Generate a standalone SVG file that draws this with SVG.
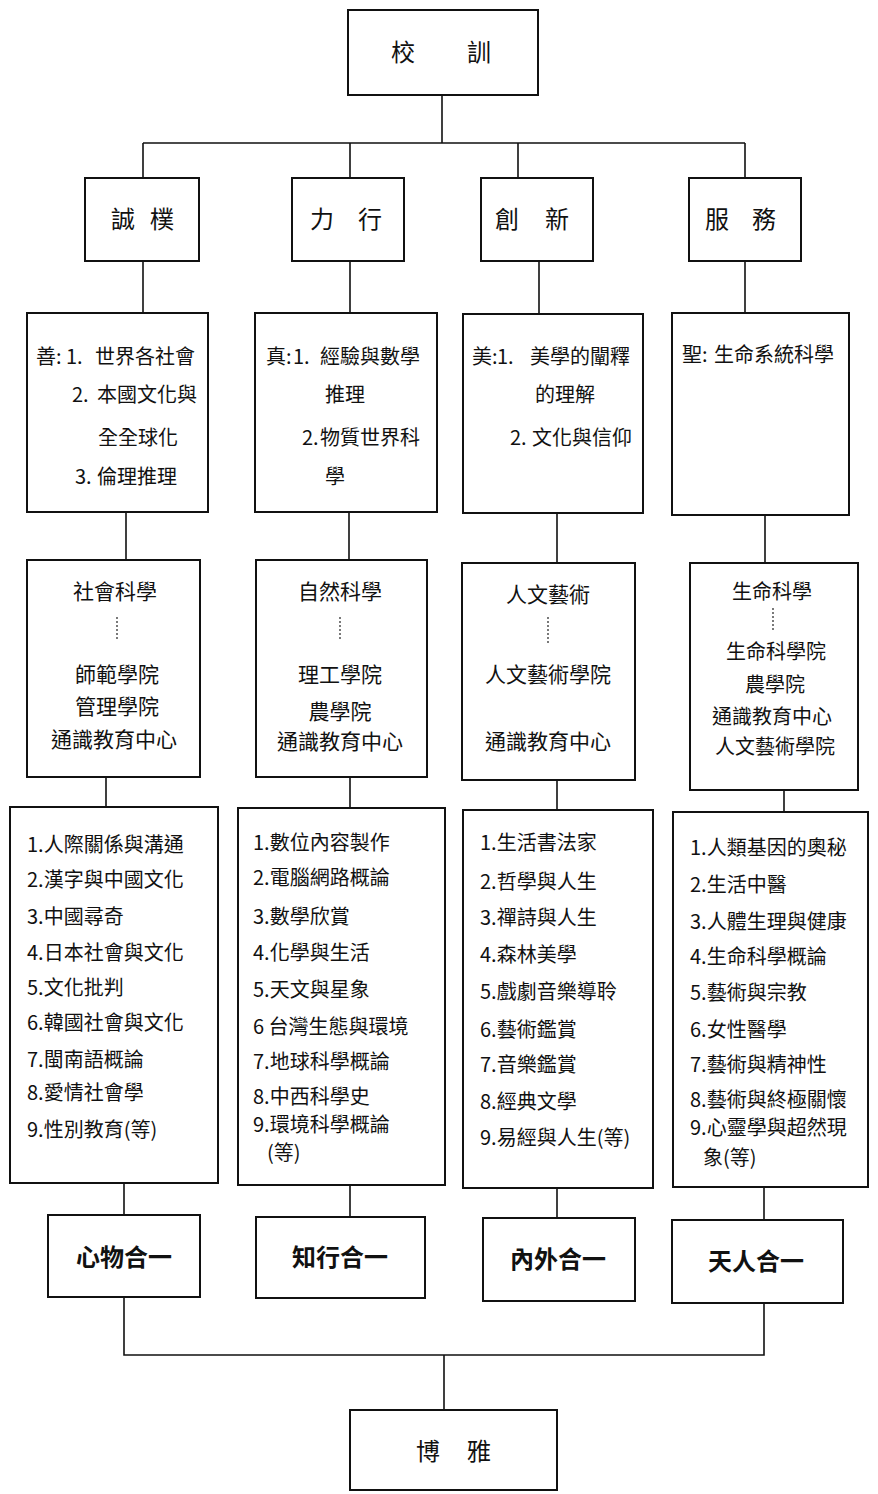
<svg xmlns="http://www.w3.org/2000/svg" width="878" height="1494" viewBox="0 0 878 1494">
<style>
.box{fill:#fff;stroke:#111;stroke-width:2}
.ln{stroke:#111;stroke-width:1.6;fill:none}
.dot{stroke:#222;stroke-width:1.2;stroke-dasharray:2 2;fill:none}
.t{font-family:"Noto Sans CJK TC","Noto Sans CJK SC",sans-serif;fill:#111;font-size:20px}
.m{text-anchor:middle}
.h{font-size:24px}
.d{font-size:21px}
.b{font-size:24px;font-weight:bold}
</style>
<rect width="878" height="1494" fill="#fff"/>
<g id="connectors">
<path class="ln" d="M442 95V143M143 143H745M143 143V178M350 143V178M518 143V178M745 143V178"/>
<path class="ln" d="M143 261V313M350 261V313M539 261V314M745 261V313"/>
<path class="ln" d="M126 512V560M349 512V560M557 513V563M765 515V563"/>
<path class="ln" d="M106 777V807M350 777V808M557 780V810M784 790V812"/>
<path class="ln" d="M124 1183V1215M350 1185V1217M557 1188V1218M764 1187V1220"/>
<path class="ln" d="M124 1297V1355H764V1303M444 1355V1410"/>
</g>
<g id="motto">
<rect class="box" x="348" y="10" width="190" height="85"/>
<text class="t h m" x="403 479" y="61">校訓</text>
</g>
<g id="chengpu">
<rect class="box" x="85" y="178" width="114" height="83"/>
<text class="t h m" x="123 162" y="228">誠樸</text>
</g>
<g id="lixing">
<rect class="box" x="292" y="178" width="112" height="83"/>
<text class="t h m" x="322 370" y="228">力行</text>
</g>
<g id="chuangxin">
<rect class="box" x="481" y="178" width="112" height="83"/>
<text class="t h m" x="507 557" y="228">創新</text>
</g>
<g id="fuwu">
<rect class="box" x="689" y="178" width="112" height="83"/>
<text class="t h m" x="717 764" y="228">服務</text>
</g>
<g id="goal-shan">
<rect class="box" x="27" y="313" width="181" height="199"/>
<text class="t" y="364"><tspan x="36">善:</tspan><tspan x="66">1.</tspan><tspan x="95">世界各社會</tspan></text>
<text class="t" y="402"><tspan x="72">2.</tspan><tspan x="97">本國文化與</tspan></text>
<text class="t" x="98" y="445">全全球化</text>
<text class="t" y="484"><tspan x="75">3.</tspan><tspan x="97">倫理推理</tspan></text>
</g>
<g id="goal-zhen">
<rect class="box" x="255" y="313" width="182" height="199"/>
<text class="t" y="364"><tspan x="266">真:</tspan><tspan x="293">1.</tspan><tspan x="320">經驗與數學</tspan></text>
<text class="t" x="325" y="402">推理</text>
<text class="t" y="445"><tspan x="302">2.</tspan><tspan x="320">物質世界科</tspan></text>
<text class="t" x="325" y="484">學</text>
</g>
<g id="goal-mei">
<rect class="box" x="463" y="314" width="180" height="199"/>
<text class="t" y="364"><tspan x="472">美:</tspan><tspan x="497">1.</tspan><tspan x="530">美學的闡釋</tspan></text>
<text class="t" x="535" y="402">的理解</text>
<text class="t" y="445"><tspan x="510">2.</tspan><tspan x="532">文化與信仰</tspan></text>
</g>
<g id="goal-sheng">
<rect class="box" x="672" y="313" width="177" height="202"/>
<text class="t" y="362"><tspan x="682">聖:</tspan><tspan x="714">生命系統科學</tspan></text>
</g>
<g id="field-social">
<rect class="box" x="27" y="560" width="173" height="217"/>
<text class="t d m" x="115" y="599">社會科學</text>
<path class="dot" d="M117 617V640"/>
<text class="t d m" x="117" y="682">師範學院</text>
<text class="t d m" x="117" y="714">管理學院</text>
<text class="t d m" x="114" y="747">通識教育中心</text>
</g>
<g id="field-natural">
<rect class="box" x="256" y="560" width="171" height="217"/>
<text class="t d m" x="340" y="599">自然科學</text>
<path class="dot" d="M340 617V640"/>
<text class="t d m" x="340" y="682">理工學院</text>
<text class="t d m" x="340" y="719">農學院</text>
<text class="t d m" x="340" y="749">通識教育中心</text>
</g>
<g id="field-arts">
<rect class="box" x="462" y="563" width="173" height="217"/>
<text class="t d m" x="548" y="602">人文藝術</text>
<path class="dot" d="M548 617V645"/>
<text class="t d m" x="548" y="682">人文藝術學院</text>
<text class="t d m" x="548" y="749">通識教育中心</text>
</g>
<g id="field-life">
<rect class="box" x="690" y="563" width="168" height="227"/>
<text class="t m" x="772" y="599">生命科學</text>
<path class="dot" d="M773 608V632"/>
<text class="t m" x="776" y="659">生命科學院</text>
<text class="t m" x="775" y="692">農學院</text>
<text class="t m" x="772" y="724">通識教育中心</text>
<text class="t m" x="775" y="754">人文藝術學院</text>
</g>
<g id="courses-social">
<rect class="box" x="10" y="807" width="208" height="376"/>
<text class="t" x="27" y="852">1.人際關係與溝通</text>
<text class="t" x="27" y="887">2.漢字與中國文化</text>
<text class="t" x="27" y="924">3.中國尋奇</text>
<text class="t" x="27" y="960">4.日本社會與文化</text>
<text class="t" x="27" y="995">5.文化批判</text>
<text class="t" x="27" y="1030">6.韓國社會與文化</text>
<text class="t" x="27" y="1067">7.閩南語概論</text>
<text class="t" x="27" y="1100">8.愛情社會學</text>
<text class="t" x="27" y="1137">9.性別教育(等)</text>
</g>
<g id="courses-natural">
<rect class="box" x="238" y="808" width="207" height="377"/>
<text class="t" x="253" y="850">1.數位內容製作</text>
<text class="t" x="253" y="885">2.電腦網路概論</text>
<text class="t" x="253" y="924">3.數學欣賞</text>
<text class="t" x="253" y="960">4.化學與生活</text>
<text class="t" x="253" y="997">5.天文與星象</text>
<text class="t" x="253" y="1034">6 台灣生態與環境</text>
<text class="t" x="253" y="1069">7.地球科學概論</text>
<text class="t" x="253" y="1104">8.中西科學史</text>
<text class="t" x="253" y="1132">9.環境科學概論</text>
<text class="t" x="267" y="1160">(等)</text>
</g>
<g id="courses-arts">
<rect class="box" x="463" y="810" width="190" height="378"/>
<text class="t" x="480" y="850">1.生活書法家</text>
<text class="t" x="480" y="889">2.哲學與人生</text>
<text class="t" x="480" y="925">3.禪詩與人生</text>
<text class="t" x="480" y="962">4.森林美學</text>
<text class="t" x="480" y="999">5.戲劇音樂導聆</text>
<text class="t" x="480" y="1037">6.藝術鑑賞</text>
<text class="t" x="480" y="1072">7.音樂鑑賞</text>
<text class="t" x="480" y="1109">8.經典文學</text>
<text class="t" x="480" y="1145">9.易經與人生(等)</text>
</g>
<g id="courses-life">
<rect class="box" x="673" y="812" width="195" height="375"/>
<text class="t" x="690" y="855">1.人類基因的奧秘</text>
<text class="t" x="690" y="892">2.生活中醫</text>
<text class="t" x="690" y="929">3.人體生理與健康</text>
<text class="t" x="690" y="964">4.生命科學概論</text>
<text class="t" x="690" y="1000">5.藝術與宗教</text>
<text class="t" x="690" y="1037">6.女性醫學</text>
<text class="t" x="690" y="1072">7.藝術與精神性</text>
<text class="t" x="690" y="1107">8.藝術與終極關懷</text>
<text class="t" x="690" y="1135">9.心靈學與超然現</text>
<text class="t" x="703" y="1165">象(等)</text>
</g>
<g id="unity-mind">
<rect class="box" x="48" y="1215" width="152" height="82"/>
<text class="t b m" x="124" y="1266">心物合一</text>
</g>
<g id="unity-knowact">
<rect class="box" x="256" y="1217" width="169" height="81"/>
<text class="t b m" x="340" y="1266">知行合一</text>
</g>
<g id="unity-inout">
<rect class="box" x="483" y="1218" width="152" height="83"/>
<text class="t b m" x="558" y="1268">內外合一</text>
</g>
<g id="unity-heaven">
<rect class="box" x="672" y="1220" width="171" height="83"/>
<text class="t b m" x="756" y="1270">天人合一</text>
</g>
<g id="boya">
<rect class="box" x="350" y="1410" width="207" height="80"/>
<text class="t h m" x="428 479" y="1460">博雅</text>
</g>
</svg>
